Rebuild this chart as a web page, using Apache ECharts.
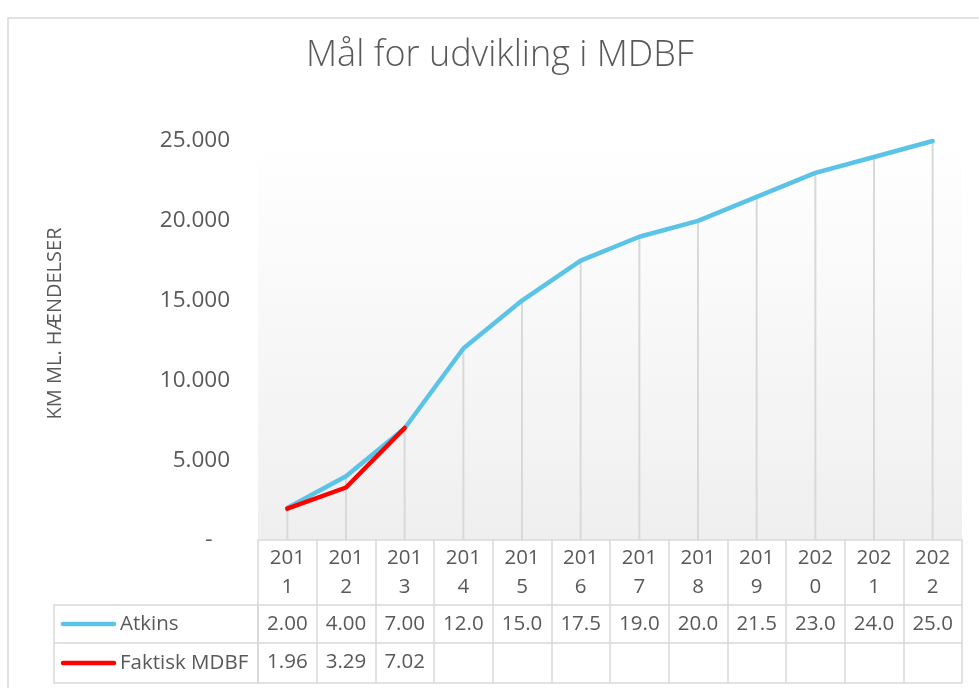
<!DOCTYPE html>
<html lang="da" style="height: 100%">
<head>
    <meta charset="utf-8">
</head>
<body style="height: 100%; margin: 0">
    <div id="container" style="height: 100%"></div>
    <script type="text/javascript" src="https://fastly.jsdelivr.net/npm/echarts@6/dist/echarts.min.js"></script>
    <script type="text/javascript">
    // data
    var years = ['2011', '2012', '2013', '2014', '2015', '2016', '2017', '2018', '2019', '2020', '2021', '2022'];
    var atkins = [2000, 4000, 7000, 12000, 15000, 17500, 19000, 20000, 21500, 23000, 24000, 25000];
    var faktisk = [1960, 3290, 7020, null, null, null, null, null, null, null, null, null];
    var seriesNames = ['Atkins', 'Faktisk MDBF'];

    const blue = '#5bc3e6';
    const red = '#ff0000';
    const textColor = '#595959';
    const lineColor = '#d9d9d9';
    const font = 'Open Sans';
    const cellSize = 20.5;

    // layout
    var gridLeft = 258, gridRight = 17, gridTop = 141, gridBottom = 148;
    var headRow = 65, rowH = 38;
    var plotBottom = 688 - gridBottom;
    var tableLeft = 54;
    var tableRight = 979 - gridRight;

    function dots(v) {
        return String(v).replace(/\B(?=(\d{3})+(?!\d))/g, '.');
    }
    // the table cells in the reference only show the first 4 characters
    function cell(arr) {
        return function (val, idx) {
            var v = arr[idx];
            return v == null ? '' : dots(v).slice(0, 4);
        };
    }

    var dom = document.getElementById('container');
    var myChart = echarts.init(dom, null, { renderer: 'canvas' });

    var option = {
        animation: false,
        backgroundColor: '#ffffff',
        title: {
            text: 'Mål for udvikling i MDBF',
            left: 301,
            top: 33,
            textStyle: { fontFamily: font, fontSize: 36, fontWeight: 300, color: textColor }
        },
        grid: {
            left: gridLeft,
            right: gridRight,
            top: gridTop,
            bottom: gridBottom,
            show: true,
            borderWidth: 0,
            backgroundColor: new echarts.graphic.LinearGradient(0, 0, 0, 1, [
                { offset: 0, color: '#ffffff' },
                { offset: 1, color: '#efefef' }
            ])
        },
        xAxis: [{
                type: 'category',
                position: 'bottom',
                data: years,
                axisLine: { lineStyle: { color: lineColor, width: 1.5 } },
                axisTick: { show: true, interval: 0, length: headRow, lineStyle: { color: lineColor, width: 1.5 } },
                axisLabel: {
                    interval: 0,
                    margin: 4,
                    fontFamily: font,
                    fontSize: cellSize,
                    lineHeight: 29,
                    color: textColor,
                    formatter: function (v) { return v.slice(0, 3) + '\n' + v.slice(3); }
                },
                splitLine: { show: false }
            },
            {
                type: 'category',
                position: 'bottom',
                data: years,
                offset: headRow,
                axisLine: { lineStyle: { color: lineColor, width: 1.5 } },
                axisTick: { show: true, interval: 0, length: rowH, lineStyle: { color: lineColor, width: 1.5 } },
                axisLabel: {
                    interval: 0, margin: 6, fontFamily: font, fontSize: cellSize, lineHeight: 26,
                    color: textColor, formatter: cell(atkins)
                }
            },
            {
                type: 'category',
                position: 'bottom',
                data: years,
                offset: headRow + rowH,
                axisLine: { lineStyle: { color: lineColor, width: 1.5 } },
                axisTick: { show: true, interval: 0, length: rowH + 2, lineStyle: { color: lineColor, width: 1.5 } },
                axisLabel: {
                    interval: 0, margin: 6, fontFamily: font, fontSize: cellSize, lineHeight: 26,
                    color: textColor, formatter: cell(faktisk)
                }
            }
        ],
        yAxis: {
            type: 'value',
            min: 0,
            max: 25000,
            interval: 5000,
            name: 'KM ML. HÆNDELSER',
            nameLocation: 'middle',
            nameGap: 193,
            nameTextStyle: { fontFamily: font, fontSize: 20, color: textColor, padding: [0, 0, 0, 34] },
            axisLine: { show: false },
            axisTick: { show: false },
            splitLine: { show: false },
            axisLabel: {
                margin: 28,
                fontFamily: font,
                fontSize: 22.5,
                color: textColor,
                formatter: function (v) { return v === 0 ? '-   ' : dots(v); }
            }
        },
        series: [{
                // drop lines
                type: 'bar',
                data: atkins,
                barWidth: 2,
                silent: true,
                z: 1,
                itemStyle: { color: lineColor }
            },
            {
                name: seriesNames[0],
                type: 'line',
                data: atkins,
                symbol: 'none',
                z: 3,
                lineStyle: { color: blue, width: 4.5, cap: 'round', join: 'round' }
            },
            {
                name: seriesNames[1],
                type: 'line',
                data: faktisk,
                symbol: 'none',
                z: 4,
                lineStyle: { color: red, width: 4.5, cap: 'round', join: 'round' }
            }
        ],
        graphic: [{
                type: 'rect',
                shape: { x: 8, y: 18, width: 1000, height: 700 },
                style: { fill: null, stroke: lineColor, lineWidth: 1.5 },
                silent: true
            },
            {
                type: 'rect',
                shape: { x: tableLeft, y: plotBottom + headRow, width: gridLeft - tableLeft, height: rowH * 2 + 2 },
                style: { fill: null, stroke: lineColor, lineWidth: 1.5 },
                silent: true
            },
            {
                type: 'line',
                shape: { x1: tableLeft, y1: plotBottom + headRow + rowH, x2: gridLeft, y2: plotBottom + headRow + rowH },
                style: { stroke: lineColor, lineWidth: 1.5 },
                silent: true
            },
            {
                type: 'line',
                shape: { x1: gridLeft, y1: plotBottom + headRow + rowH * 2 + 2, x2: tableRight, y2: plotBottom + headRow + rowH * 2 + 2 },
                style: { stroke: lineColor, lineWidth: 1.5 },
                silent: true
            },
            {
                type: 'line',
                shape: { x1: 63, y1: plotBottom + headRow + rowH / 2, x2: 114, y2: plotBottom + headRow + rowH / 2 },
                style: { stroke: blue, lineWidth: 4.5, lineCap: 'round' },
                silent: true
            },
            {
                type: 'text',
                x: 120,
                y: plotBottom + headRow + rowH / 2,
                style: { text: seriesNames[0], fontFamily: font, fontSize: cellSize, fill: textColor, verticalAlign: 'middle' }
            },
            {
                type: 'line',
                shape: { x1: 63, y1: plotBottom + headRow + rowH * 1.5 + 1, x2: 114, y2: plotBottom + headRow + rowH * 1.5 + 1 },
                style: { stroke: red, lineWidth: 4.5, lineCap: 'round' },
                silent: true
            },
            {
                type: 'text',
                x: 120,
                y: plotBottom + headRow + rowH * 1.5 + 1,
                style: { text: seriesNames[1], fontFamily: font, fontSize: cellSize, fill: textColor, verticalAlign: 'middle' }
            }
        ]
    };

    myChart.setOption(option);
    window.addEventListener('resize', myChart.resize);
    </script>
</body>
</html>
